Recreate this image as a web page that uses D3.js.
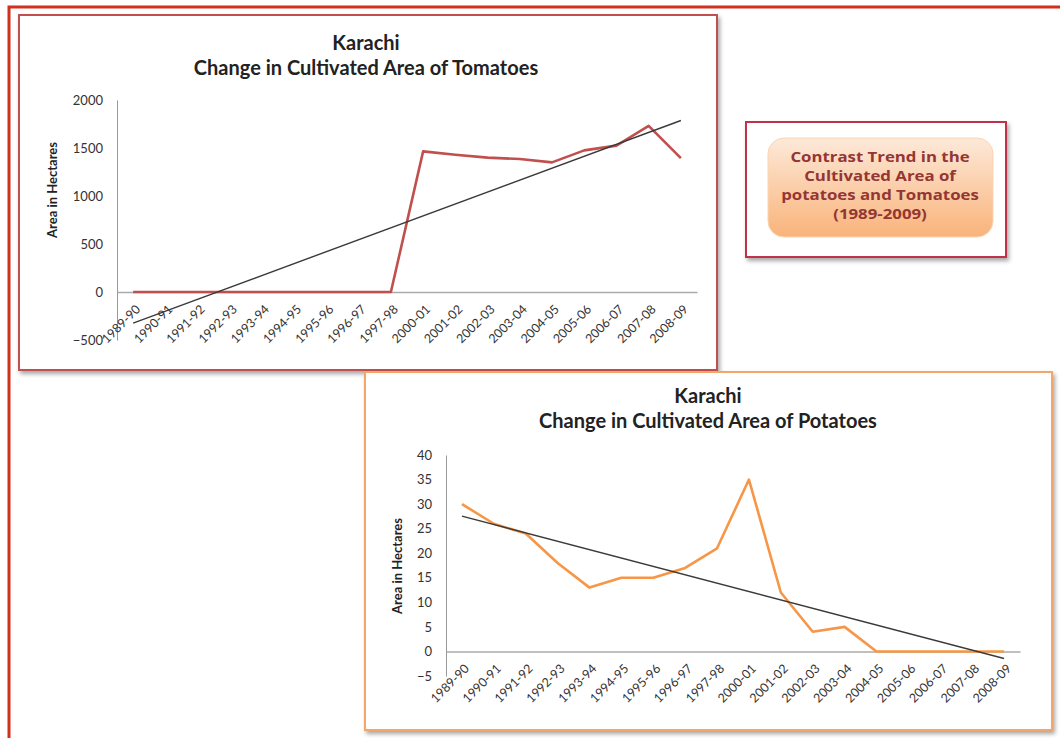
<!DOCTYPE html>
<html>
<head>
<meta charset="utf-8">
<title>Karachi - Tomatoes and Potatoes</title>
<script src="https://d3js.org/d3.v7.min.js"></script>
<style>
  body { margin: 0; background: #fff; }
</style>
</head>
<body>
<div id="chart"></div>
<script>
// categories (note: the source skips 1998-99 and 1999-00)
const seasons = ["1989-90", "1990-91", "1991-92", "1992-93", "1993-94", "1994-95",
  "1995-96", "1996-97", "1997-98", "2000-01", "2001-02", "2002-03", "2003-04",
  "2004-05", "2005-06", "2006-07", "2007-08", "2008-09"];

const tomatoArea = [0, 0, 0, 0, 0, 0, 0, 0, 0, 1465, 1430, 1400, 1385, 1350, 1475, 1525, 1730, 1395];
const potatoArea = [30, 26, 24, 18, 13, 15, 15, 17, 21, 35, 12, 4, 5, 0, 0, 0, 0, 0];

const tomatoTicks = [-500, 0, 500, 1000, 1500, 2000];
const potatoTicks = [-5, 0, 5, 10, 15, 20, 25, 30, 35, 40];

const calloutLines = ["Contrast Trend in the", "Cultivated Area of", "potatoes and Tomatoes", "(1989-2009)"];

const width = 1060, height = 738;

const svg = d3.select("#chart").append("svg")
  .attr("width", width)
  .attr("height", height)
  .style("font-family", "Lato, sans-serif");

const defs = svg.append("defs");
const shadow = defs.append("filter").attr("id", "shadow")
  .attr("x", "-5%").attr("y", "-5%").attr("width", "115%").attr("height", "115%");
shadow.append("feDropShadow")
  .attr("dx", 2).attr("dy", 3).attr("stdDeviation", 2)
  .attr("flood-color", "#000").attr("flood-opacity", 0.35);

const grad = defs.append("linearGradient").attr("id", "peach")
  .attr("x1", 0).attr("y1", 0).attr("x2", 0).attr("y2", 1);
grad.append("stop").attr("offset", "0%").attr("stop-color", "#fde9d9");
grad.append("stop").attr("offset", "100%").attr("stop-color", "#f9b37a");

// outer red frame
svg.append("path")
  .attr("d", "M9,738 V7 H1060")
  .attr("fill", "none")
  .attr("stroke", "#d0301c")
  .attr("stroke-width", 3);

// least squares trend over category index
function trend(values) {
  const n = values.length;
  const xs = d3.range(1, n + 1);
  const mx = d3.mean(xs), my = d3.mean(values);
  const sxy = d3.sum(xs, (x, i) => (x - mx) * (values[i] - my));
  const sxx = d3.sum(xs, x => (x - mx) * (x - mx));
  const b = sxy / sxx, a = my - b * mx;
  return [a + b * 1, a + b * n];
}

function drawChart(opt) {
  const g = svg.append("g");

  g.append("rect")
    .attr("x", opt.box[0]).attr("y", opt.box[1])
    .attr("width", opt.box[2]).attr("height", opt.box[3])
    .attr("fill", "#fff")
    .attr("stroke", opt.frame)
    .attr("stroke-width", 2)
    .attr("filter", "url(#shadow)");

  const x = d3.scaleBand()
    .domain(seasons)
    .range([opt.left, opt.right]);

  const y = d3.scaleLinear()
    .domain(opt.domain)
    .range([opt.bottom, opt.top]);

  // titles
  g.append("text")
    .attr("x", opt.titleX).attr("y", opt.titleY)
    .attr("text-anchor", "middle")
    .attr("font-size", 20).attr("font-weight", "bold").attr("fill", "#222")
    .text("Karachi");
  g.append("text")
    .attr("x", opt.titleX).attr("y", opt.titleY + 25)
    .attr("text-anchor", "middle")
    .attr("font-size", 20).attr("font-weight", "bold").attr("fill", "#222")
    .text(opt.title);

  // y axis
  const yAxis = g.append("g")
    .attr("transform", `translate(${opt.left},0)`)
    .call(d3.axisLeft(y).tickValues(opt.ticks).tickFormat(d3.format("d")).tickSize(0).tickPadding(14));
  yAxis.attr("font-family", null);
  yAxis.select(".domain").attr("stroke", "#999");
  yAxis.selectAll("text")
    .attr("font-size", 13).attr("fill", "#333");

  g.append("text")
    .attr("transform", `translate(${opt.yTitleX},${opt.yTitleY}) rotate(-90)`)
    .attr("text-anchor", "middle")
    .attr("font-size", 13).attr("font-weight", "bold").attr("fill", "#222")
    .text("Area in Hectares");

  // zero line with category labels
  const xAxis = g.append("g")
    .attr("transform", `translate(0,${y(0)})`)
    .call(d3.axisBottom(x).tickSize(0).tickPadding(0));
  xAxis.attr("font-family", null);
  xAxis.select(".domain").attr("stroke", "#aaa").attr("stroke-width", 1.5);
  xAxis.selectAll("text")
    .attr("font-size", 12.5).attr("fill", "#333")
    .attr("text-anchor", "end")
    .attr("dy", 0)
    .attr("transform", "translate(8,18) rotate(-45)");

  const cx = d => x(d) + x.bandwidth() / 2;

  // data line
  const line = d3.line()
    .x((d, i) => cx(seasons[i]))
    .y(d => y(d));
  g.append("path")
    .datum(opt.values)
    .attr("d", line)
    .attr("fill", "none")
    .attr("stroke", opt.color)
    .attr("stroke-width", 2.6)
    .attr("stroke-linejoin", "round");

  // linear trend line
  const t = trend(opt.values);
  g.append("line")
    .attr("x1", cx(seasons[0])).attr("y1", y(t[0]))
    .attr("x2", cx(seasons[seasons.length - 1])).attr("y2", y(t[1]))
    .attr("stroke", "#3a3a3a")
    .attr("stroke-width", 1.4);
}

drawChart({
  box: [19, 15, 698, 355], frame: "#c0504d",
  left: 117, right: 697, top: 100, bottom: 340,
  domain: [-500, 2000], ticks: tomatoTicks,
  values: tomatoArea, color: "#c0504d",
  title: "Change in Cultivated Area of Tomatoes",
  titleX: 366, titleY: 50, yTitleX: 57, yTitleY: 190
});

drawChart({
  box: [365, 372, 687, 358], frame: "#f4a66a",
  left: 446, right: 1020, top: 455, bottom: 676,
  domain: [-5, 40], ticks: potatoTicks,
  values: potatoArea, color: "#f79646",
  title: "Change in Cultivated Area of Potatoes",
  titleX: 708, titleY: 403, yTitleX: 402, yTitleY: 566
});

// callout box
const callout = svg.append("g");
callout.append("rect")
  .attr("x", 746).attr("y", 122).attr("width", 260).attr("height", 135)
  .attr("fill", "#fff")
  .attr("stroke", "#c0304a").attr("stroke-width", 2)
  .attr("filter", "url(#shadow)");
callout.append("rect")
  .attr("x", 768).attr("y", 138).attr("width", 225).attr("height", 99)
  .attr("rx", 16)
  .attr("fill", "url(#peach)")
  .attr("stroke", "#fbd3b0").attr("stroke-width", 1);
// text in the source is stretched sideways, so widen it a little
callout.append("g")
  .attr("transform", "translate(880,0) scale(1.2,1)")
  .selectAll("text.note")
  .data(calloutLines)
  .join("text")
  .attr("class", "note")
  .attr("x", 0)
  .attr("y", (d, i) => 162 + i * 19)
  .attr("text-anchor", "middle")
  .style("font-family", "'Open Sans', sans-serif")
  .attr("font-size", 14).attr("font-weight", "bold")
  .attr("fill", "#943634")
  .text(d => d);
</script>
</body>
</html>
